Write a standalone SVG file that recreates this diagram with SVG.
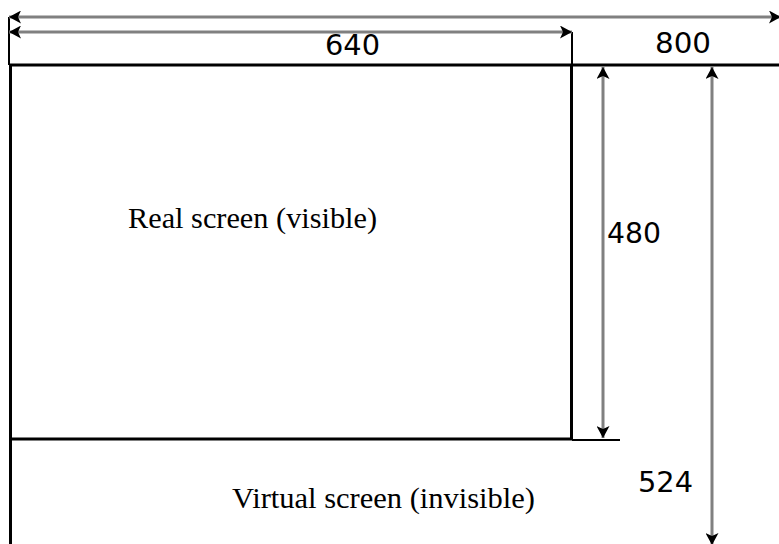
<svg xmlns="http://www.w3.org/2000/svg" width="779" height="544" viewBox="0 0 779 544">
<defs>
<marker id="ah" markerUnits="userSpaceOnUse" markerWidth="13" markerHeight="13" refX="12" refY="6.5" orient="auto-start-reverse" viewBox="0 0 13 13">
<path d="M0,0 L12,6.5 L0,13 L3,6.5 z" fill="#000"/>
</marker>
</defs>
<style>
.dim{stroke:#808080;stroke-width:3;fill:none;marker-start:url(#ah);marker-end:url(#ah)}
.thick{stroke:#000;stroke-width:3;fill:none}
.thin{stroke:#000;stroke-width:2;fill:none}
.num{font-family:"DejaVu Sans",sans-serif;font-size:28px;fill:#000}
.lbl{font-family:"Liberation Serif",serif;font-size:29px;fill:#000}
</style>
<rect width="779" height="544" fill="#fff"/>
<g id="virtual-screen">
<line class="thick" x1="10.5" y1="64" x2="10.5" y2="544"/>
<text class="lbl" x="232" y="508" textLength="303" lengthAdjust="spacingAndGlyphs">Virtual screen (invisible)</text>
</g>
<g id="real-screen">
<line class="thick" x1="9" y1="65" x2="779" y2="65"/>
<line class="thick" x1="571.5" y1="64" x2="571.5" y2="440"/>
<line class="thick" x1="9" y1="439" x2="573" y2="439"/>
<line class="thin" x1="572" y1="440" x2="620" y2="440"/>
<text class="lbl" x="128" y="228" textLength="249" lengthAdjust="spacingAndGlyphs">Real screen  (visible)</text>
</g>
<g id="connectors">
<line class="thin" x1="9" y1="17" x2="9" y2="65"/>
<line class="thin" x1="572" y1="32" x2="572" y2="65"/>
<line class="dim" x1="9" y1="17" x2="781" y2="17"/>
<line class="dim" x1="9" y1="32" x2="572" y2="32"/>
<line class="dim" x1="603" y1="67" x2="603" y2="438"/>
<line class="dim" x1="712" y1="67" x2="712" y2="545"/>
</g>
<g id="labels">
<text class="num" x="325" y="55" textLength="55" lengthAdjust="spacingAndGlyphs">640</text>
<text class="num" x="655" y="53" textLength="56" lengthAdjust="spacingAndGlyphs">800</text>
<text class="num" x="607" y="243" textLength="54" lengthAdjust="spacingAndGlyphs">480</text>
<text class="num" x="638" y="492" textLength="55" lengthAdjust="spacingAndGlyphs">524</text>
</g>
</svg>
